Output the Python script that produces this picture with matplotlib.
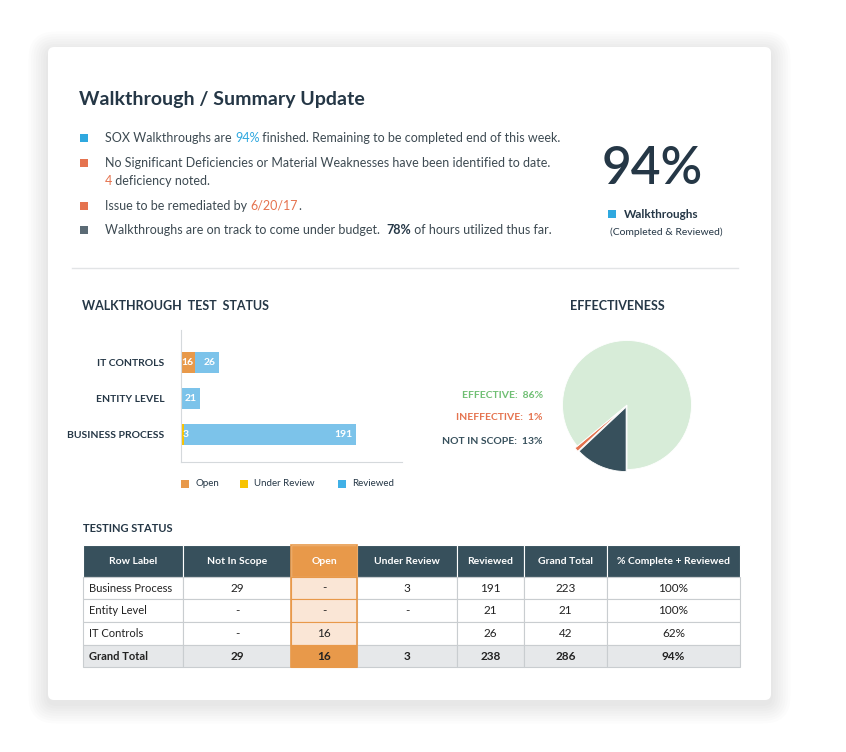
import matplotlib.pyplot as plt
from matplotlib.patches import Rectangle, FancyBboxPatch

plt.rcParams['font.family'] = 'Lato'

# ---- data ----
bar_categories = ['BUSINESS PROCESS', 'ENTITY LEVEL', 'IT CONTROLS']
bar_open = [0, 0, 16]
bar_under_review = [3, 0, 0]
bar_reviewed = [191, 21, 26]

pie_labels = ['NOT IN SCOPE', 'INEFFECTIVE', 'EFFECTIVE']
pie_values = [13, 1, 86]

table_header = ['Row Label', 'Not In Scope', 'Open', 'Under Review', 'Reviewed', 'Grand Total', '% Complete + Reviewed']
table_rows = [
    ['Business Process', '29', '-', '3', '191', '223', '100%'],
    ['Entity Level', '-', '-', '-', '21', '21', '100%'],
    ['IT Controls', '-', '16', '', '26', '42', '62%'],
    ['Grand Total', '29', '16', '3', '238', '286', '94%'],
]

DARK = '#253746'
SLATE = '#37505c'
BLUE = '#2fa8df'
ORANGE = '#e5734f'
BAR_ORANGE = '#e8994a'
BAR_YELLOW = '#f8c300'
BAR_BLUE = '#7cc3ea'

fig = plt.figure(figsize=(8.46, 7.52), dpi=100)
bg = fig.add_axes([0, 0, 1, 1])
bg.set_xlim(0, 846)
bg.set_ylim(752, 0)
bg.axis('off')

# card with soft shadow
for i in range(8):
    d = 2 + i * 2.5
    bg.add_patch(FancyBboxPatch((48 - d, 47 - d + 4), 723 + 2 * d, 653 + 2 * d,
                                boxstyle='round,pad=0,rounding_size=%d' % (8 + d), fc='black', ec='none', alpha=0.012))
bg.add_patch(FancyBboxPatch((48, 47), 723, 653, boxstyle='round,pad=0,rounding_size=6', fc='white', ec='none'))

# header
bg.text(79, 99, 'Walkthrough / Summary Update', fontsize=14, fontweight='bold', color=DARK, va='center')

renderer = fig.canvas.get_renderer()


def bullet(y, col):
    bg.add_patch(Rectangle((80, y - 4), 8, 8, fc=col, ec='none'))


def runs(x, y, parts, size=9):
    for txt, col, bold in parts:
        t = bg.text(x, y, txt, fontsize=size, color=col, va='center',
                    fontweight='bold' if bold else 'normal')
        x += t.get_window_extent(renderer=renderer).width


TXT = '#3d4a52'
bullet(138, BLUE)
runs(105, 138, [('SOX Walkthroughs are ', TXT, False), ('94%', BLUE, False),
                (' finished. Remaining to be completed end of this week.', TXT, False)])
bullet(163, ORANGE)
runs(105, 163, [('No Significant Deficiencies or Material Weaknesses have been identified to date.', TXT, False)])
runs(105, 181, [('4', ORANGE, False), (' deficiency noted.', TXT, False)])
bullet(206, ORANGE)
runs(105, 206, [('Issue to be remediated by ', TXT, False), ('6/20/17', ORANGE, False), ('.', TXT, False)])
bullet(230, '#5b6b75')
runs(105, 230, [('Walkthroughs are on track to come under budget.  ', TXT, False), ('78%', DARK, True),
                (' of hours utilized thus far.', TXT, False)], size=9)

bg.text(652, 170, '94%', fontsize=37, fontweight='semibold', color=DARK, ha='center', va='center')
bg.add_patch(Rectangle((608, 210), 8, 8, fc=BLUE, ec='none'))
bg.text(624, 214, 'Walkthroughs', fontsize=8.5, fontweight='bold', color=DARK, va='center')
bg.text(666, 232, '(Completed & Reviewed)', fontsize=7.5, color=DARK, ha='center', va='center')

bg.plot([72, 738], [268, 268], color='#e2e4e6', lw=1)

# ---- bar chart ----
bg.text(82, 306, 'WALKTHROUGH  TEST  STATUS', fontsize=9, fontweight='bold', color=DARK, va='center')
ax = fig.add_axes([181 / 846, 1 - 462 / 752, 221 / 846, 132 / 752])
y = range(len(bar_categories))
left_rev = [o + u for o, u in zip(bar_open, bar_under_review)]
ax.barh(y, bar_open, color=BAR_ORANGE, height=0.58)
ax.barh(y, bar_under_review, left=bar_open, color=BAR_YELLOW, height=0.58)
ax.barh(y, bar_reviewed, left=left_rev, color=BAR_BLUE, height=0.58)
for i in y:
    if bar_open[i]:
        ax.text(bar_open[i] - 2, i, str(bar_open[i]), color='white', fontsize=7.5, fontweight='bold', ha='right', va='center')
    if bar_under_review[i]:
        ax.text(bar_open[i] + 1.5, i, str(bar_under_review[i]), color='white', fontsize=7.5, fontweight='bold', ha='left', va='center')
    end = left_rev[i] + bar_reviewed[i]
    ax.text(end - 4, i, str(bar_reviewed[i]), color='white', fontsize=7.5, fontweight='bold', ha='right', va='center')
ax.set_xlim(0, 245)
ax.set_ylim(-0.75, 2.9)
ax.set_yticks(list(y))
ax.set_yticklabels(bar_categories, fontsize=7.5, fontweight='bold', color=DARK)
ax.set_xticks([])
ax.tick_params(axis='y', length=0, pad=12)
for s in ['top', 'right']:
    ax.spines[s].set_visible(False)
for s in ['left', 'bottom']:
    ax.spines[s].set_color('#d5d9dc')

for lx, col, lab in [(181, BAR_ORANGE, 'Open'), (240, BAR_YELLOW, 'Under Review'), (338, '#40b0e6', 'Reviewed')]:
    bg.add_patch(Rectangle((lx, 480), 8, 8, fc=col, ec='none'))
    bg.text(lx + 14, 483, lab, fontsize=7, color=DARK, va='center')

# ---- pie ----
bg.text(617, 306, 'EFFECTIVENESS', fontsize=9, fontweight='bold', color=DARK, ha='center', va='center')
pax = fig.add_axes([(627 - 75) / 846, 1 - (405 + 75) / 752, 150 / 846, 150 / 752])
pax.pie(pie_values, colors=[SLATE, ORANGE, '#d7ecd8'], startangle=270, counterclock=False,
        explode=[0.03, 0.04, 0], radius=0.86, wedgeprops=dict(linewidth=0.6, edgecolor='white'))
pax.set_xlim(-1, 1)
pax.set_ylim(-1, 1)
pax.set_aspect('equal')
for yy, lab, val, col in zip([441, 418, 395], pie_labels, pie_values, [SLATE, ORANGE, '#6fbf73']):
    bg.text(543, yy, f'{lab}:  {val}%', fontsize=7.5, fontweight='bold', color=col, ha='right', va='center')

# ---- table ----
bg.text(83, 528, 'TESTING STATUS', fontsize=8, fontweight='bold', color=DARK, va='center')
col_x = [83, 183, 291, 357, 457, 524, 607, 740]
row_y = [545, 577, 599, 622, 645, 667]
for r in range(len(row_y) - 1):
    for c in range(len(col_x) - 1):
        x0, x1 = col_x[c], col_x[c + 1]
        y0, y1 = row_y[r], row_y[r + 1]
        last = r == len(row_y) - 2
        if r == 0:
            fc, ec, txt = (BAR_ORANGE if c == 2 else SLATE), 'white', table_header[c]
            tc, fw = 'white', 'bold'
        else:
            txt = table_rows[r - 1][c]
            fc = '#e6e8ea' if last else 'white'
            ec = '#c9cdd0'
            tc, fw = '#222222', ('bold' if last else 'normal')
            if c == 2:
                fc = BAR_ORANGE if last else '#fae6d6'
                ec = BAR_ORANGE
        bg.add_patch(Rectangle((x0, y0), x1 - x0, y1 - y0, fc=fc, ec=ec, lw=0.8))
        if c == 0 and r > 0:
            bg.text(x0 + 6, (y0 + y1) / 2, txt, fontsize=8, fontweight=fw, color=tc, va='center')
        else:
            bg.text((x0 + x1) / 2, (y0 + y1) / 2, txt, fontsize=7.5 if r == 0 else 8.5, fontweight=fw,
                    color=tc, ha='center', va='center')
# orange outline around open column
bg.add_patch(Rectangle((291, 545), 66, 122, fc='none', ec=BAR_ORANGE, lw=1.2))

fig.savefig('out.png', dpi=100)
